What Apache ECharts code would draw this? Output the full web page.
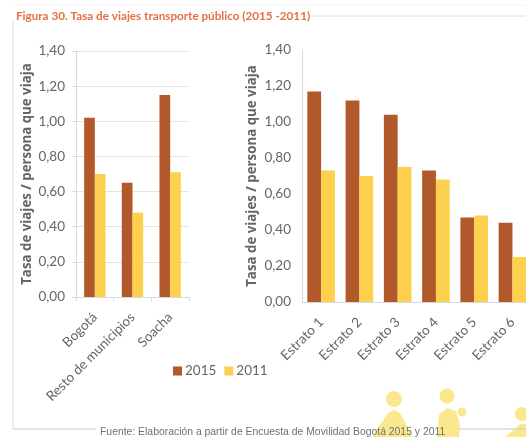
<!DOCTYPE html>
<html>
<head>
<meta charset="utf-8">
<style>
html,body{margin:0;padding:0;background:#fff;}
#main{width:526px;height:437px;}
</style>
<script src="https://cdn.jsdelivr.net/npm/echarts@6/dist/echarts.min.js"></script>
</head>
<body>
<div id="main"></div>
<script>
var zonas = ['Bogotá', 'Resto de municipios', 'Soacha'];
var zonas2015 = [1.02, 0.65, 1.15];
var zonas2011 = [0.70, 0.48, 0.71];

var estratos = ['Estrato 1', 'Estrato 2', 'Estrato 3', 'Estrato 4', 'Estrato 5', 'Estrato 6'];
var estratos2015 = [1.17, 1.12, 1.04, 0.73, 0.47, 0.44];
var estratos2011 = [0.73, 0.70, 0.75, 0.68, 0.48, 0.25];

var titulo = 'Figura 30. Tasa de viajes transporte público (2015 -2011)';
var fuente = 'Fuente: Elaboración a partir de Encuesta de Movilidad Bogotá 2015 y 2011';
var ejeY = 'Tasa de viajes / persona que viaja';

var cafe = '#b1592a';
var amarillo = '#fdd14e';
var gris = '#666666';
var linea = '#d9d9d9';
var claro = '#fbe88e';

function coma(v) {
  return v.toFixed(2).replace('.', ',');
}

function ejeX(idx, datos) {
  return {
    type: 'category',
    gridIndex: idx,
    data: datos,
    axisLine: { lineStyle: { color: linea, width: 1 } },
    axisTick: { show: idx == 0, length: 4, lineStyle: { color: linea } },
    axisLabel: { rotate: 45, interval: 0, margin: 18, color: gris, fontFamily: 'Lato', fontSize: 13.5 }
  };
}

function ejeV(idx, conGrid, gap) {
  return {
    type: 'value',
    gridIndex: idx,
    min: 0,
    max: 1.4,
    interval: 0.2,
    name: ejeY,
    nameLocation: 'middle',
    nameGap: gap,
    nameTextStyle: { color: gris, fontFamily: 'Open Sans', fontWeight: 'bold', fontSize: 13.3 },
    axisLine: { show: true, lineStyle: { color: linea, width: 1 } },
    axisTick: { show: idx == 0, length: 4, lineStyle: { color: linea } },
    splitLine: { show: conGrid, lineStyle: { color: '#e3e3e3', width: 1 } },
    axisLabel: { color: gris, fontFamily: 'Lato', fontSize: 13.5, margin: 11, formatter: coma }
  };
}

function barras(nombre, idx, datos, color, ancho) {
  return {
    name: nombre,
    type: 'bar',
    xAxisIndex: idx,
    yAxisIndex: idx,
    data: datos,
    barWidth: ancho,
    barGap: 0,
    itemStyle: { color: color }
  };
}

// figuras claras del fondo y marco
var fondo = [
  { type: 'circle', shape: { cx: 394, cy: 399, r: 8 }, style: { fill: claro } },
  { type: 'polygon', shape: { points: [[372, 437], [388, 413], [394, 410], [400, 413], [413, 437]] }, style: { fill: claro } },
  { type: 'circle', shape: { cx: 447, cy: 396, r: 7.5 }, style: { fill: claro } },
  { type: 'polygon', shape: { points: [[437, 437], [439, 415], [447, 408], [456, 411], [460, 425], [459, 437]] }, style: { fill: claro } },
  { type: 'circle', shape: { cx: 462, cy: 412, r: 4.5 }, style: { fill: claro } },
  { type: 'circle', shape: { cx: 522, cy: 414, r: 7 }, style: { fill: claro } },
  { type: 'polygon', shape: { points: [[505, 437], [520, 424], [526, 424], [526, 437]] }, style: { fill: claro } },
  { type: 'line', shape: { x1: 13, y1: 5, x2: 526, y2: 5 }, style: { stroke: '#f4f4f4', lineWidth: 1 } },
  { type: 'line', shape: { x1: 13, y1: 20, x2: 13, y2: 429 }, style: { stroke: '#dcdcdc', lineWidth: 1 } },
  { type: 'line', shape: { x1: 13, y1: 429, x2: 96, y2: 429 }, style: { stroke: '#c9c9c9', lineWidth: 1 } },
  { type: 'line', shape: { x1: 459, y1: 429, x2: 526, y2: 429 }, style: { stroke: '#c9c9c9', lineWidth: 1 } },
  { type: 'line', shape: { x1: 311, y1: 16, x2: 526, y2: 16 }, style: { stroke: '#dcdcdc', lineWidth: 1 } }
];
fondo.forEach(function (g) { g.silent = true; g.z = -1; });

var myChart = echarts.init(document.getElementById('main'), null, { renderer: 'canvas' });
var option = {
  animation: false,
  backgroundColor: '#fff',
  title: [
    { text: titulo, left: 11, top: 5, textStyle: { color: '#e4703f', fontFamily: 'Lato', fontWeight: 'bold', fontSize: 11.7 } },
    { text: fuente, left: 95, top: 422, textStyle: { color: '#707070', fontFamily: 'Liberation Sans', fontWeight: 'normal', fontSize: 10.4 } }
  ],
  legend: {
    data: ['2015', '2011'],
    icon: 'rect',
    left: 168,
    top: 359,
    itemWidth: 9,
    itemHeight: 9,
    itemGap: 8,
    textStyle: { color: gris, fontFamily: 'Lato', fontSize: 13.5, padding: [0, 0, 0, -2] }
  },
  grid: [
    { left: 76, top: 51, width: 113, height: 246, outerBoundsMode: 'none' },
    { left: 302, top: 50, width: 229.6, height: 252, outerBoundsMode: 'none' }
  ],
  xAxis: [ejeX(0, zonas), ejeX(1, estratos)],
  yAxis: [ejeV(0, true, 42), ejeV(1, false, 43)],
  series: [
    barras('2015', 0, zonas2015, cafe, 10.7),
    barras('2011', 0, zonas2011, amarillo, 10.7),
    barras('2015', 1, estratos2015, cafe, 13.8),
    barras('2011', 1, estratos2011, amarillo, 13.8)
  ],
  graphic: fondo
};
myChart.setOption(option);
</script>
</body>
</html>
